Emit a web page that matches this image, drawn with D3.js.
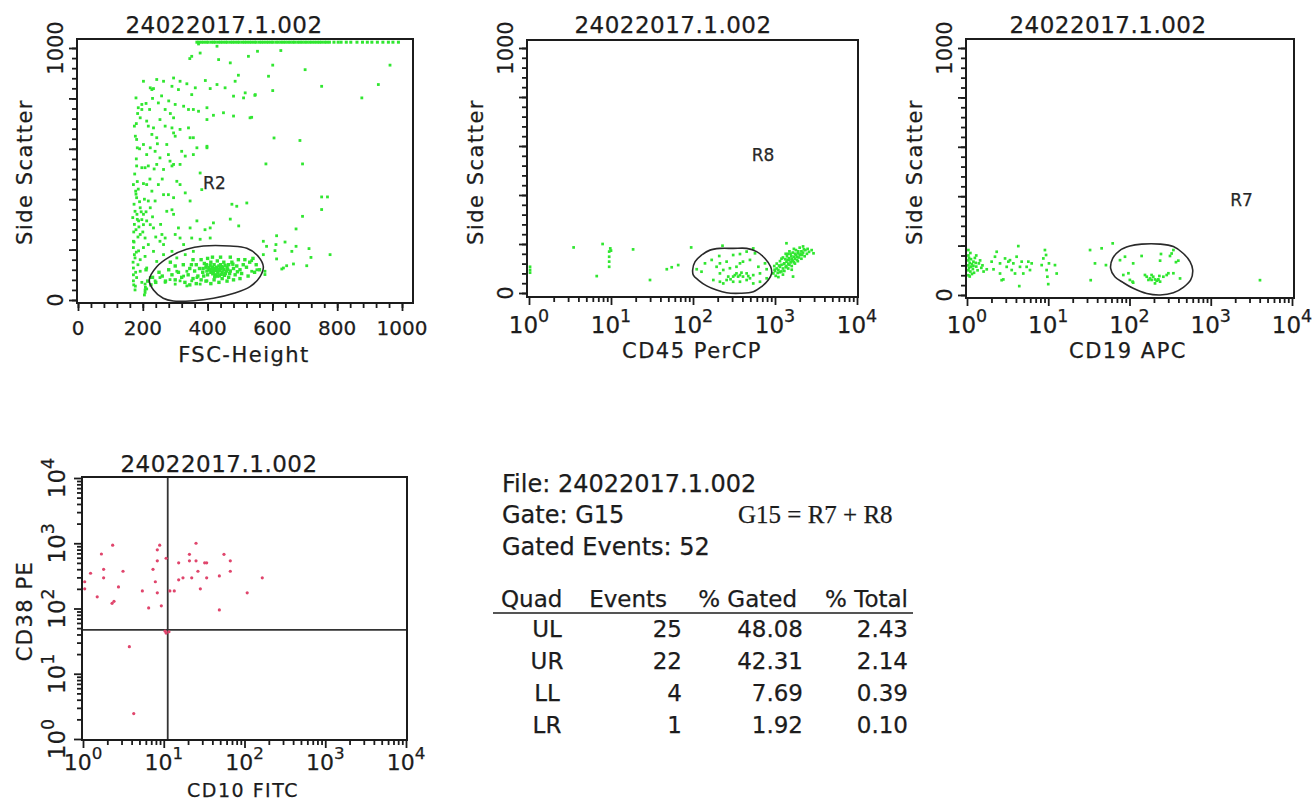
<!DOCTYPE html>
<html><head><meta charset="utf-8">
<script src="https://cdn.jsdelivr.net/npm/d3@7"></script>
<style>body{margin:0;background:#fff}svg{display:block}text{stroke:#1c1c1c;stroke-width:0.25px}</style>
</head><body>
<svg id="c" width="1312" height="801"></svg>
<script>
// ---------------- DATA ----------------
const fileName = "24022017.1.002";
const fscMajorTicks = [0, 200, 400, 600, 800, 1000];
const sscLabelTicks = [0, 1000];
const logMajorTicks = [1, 10, 100, 1000, 10000];

// FSC-Height vs Side Scatter events [fsc, ssc]
const fscSscEvents = [
[372,1016],[351,967],[345,958],[377,980],[429,1007],[434,954],[470,941],[526,967],[495,892],[554,987],
[202,868],[223,842],[228,835],[233,839],[243,875],[264,868],[295,881],[290,848],[315,868],[310,835],[336,858],[362,842],[351,815],[393,871],[408,839],[429,855],[454,842],[480,809],[485,868],[511,802],[516,822],[547,815],
[179,802],[197,776],[197,756],[186,763],[221,756],[248,782],[269,756],[295,723],[300,776],[326,769],[341,756],[356,756],[372,749],[398,763],[418,733],[449,743],[480,730],[531,723],
[174,690],[192,723],[212,710],[217,690],[233,683],[228,657],[243,644],[253,716],[269,690],[290,683],[295,663],[300,650],[315,677],[341,683],[346,644],[356,644],[398,604],[398,716],
[183,604],[181,637],[202,617],[212,577],[223,604],[238,590],[253,564],[274,617],[279,577],[284,551],[295,538],[315,538],[320,590],[331,571],[356,577],[367,604],[398,610],[181,532],[197,525],[207,525],[217,532],[243,538],[264,518],[290,532],
[171,458],[178,432],[181,406],[202,462],[212,458],[228,432],[248,458],[173,380],[176,352],[192,366],[202,340],[217,393],[223,366],[238,393],[264,418],[279,418],[295,406],[305,471],[315,458],[331,425],[274,352],[290,358],[295,340],[346,393],[377,504],[382,438],[475,380],[490,372],[521,385],
[169,327],[187,314],[197,319],[202,299],[212,314],[223,299],[179,279],[192,260],[207,246],[217,220],[171,233],[233,286],[259,260],[269,246],[253,233],[300,260],[310,286],[315,246],[346,286],[351,246],[367,314],[392,279],[408,286],[418,306],[377,241],[408,246],[470,321],[496,294],
[171,208],[187,195],[202,208],[176,167],[192,160],[207,173],[171,127],[192,114],[212,127],[233,193],[264,180],[243,153],[290,193],[305,167],[331,180],[356,193],[326,220],[264,220],
[171,76],[181,89],[197,70],[207,63],[212,44],[223,89],[238,76],[253,89],[269,70],[284,81],[300,63],[315,76],[326,95],[336,56],[351,76],[367,89],[377,63],[398,76],[336,114],[305,114],
[174,300],[182,340],[172,270],[185,250],[179,420],[183,470],[175,500],[180,560],[170,150],[178,110],[185,140],[172,60],[176,40],[180,190],[173,230],[188,290],[190,390],[186,440],[177,650],[180,700],[184,740],[190,600],[174,180],[171,100],[177,55],[183,320],[195,350],[200,270],[205,400],[210,350],[230,330],[240,250],[255,300],[222,480],[235,520],[260,480],[245,620],[210,780],[230,800],[258,810],[280,790],[285,740],
[207,40],[207,30],[208,50],[205,20],
[626,990],[601,932],[588,888],[701,914],[752,848],[963,932],[927,855],[876,802],[546,812],[601,831],[536,725],[605,643],[685,633],[580,540],[693,540],[752,409],[770,409],[752,359],[693,332],[673,282],[613,255],[572,233],[582,213],[611,220],[639,230],[673,213],[713,204],[608,196],[660,193],[778,180],[719,169],[613,163],[536,156],[572,180],[665,143],[644,136],[634,127],[629,123],[706,136],[577,114],[577,101],[552,120],[536,114]
];
// dense lymphocyte cluster inside R2
const fscSscCore = [
[420,120],[430,115],[440,125],[410,110],[425,100],[435,135],[445,110],[415,130],[405,120],[450,120],
[460,130],[455,105],[430,95],[440,140],[420,140],[400,100],[395,130],[470,115],[465,140],[480,125],
[490,135],[500,120],[510,140],[475,150],[450,150],[430,155],[410,150],[390,145],[385,110],[375,125],
[370,95],[360,115],[355,85],[380,80],[395,75],[420,80],[445,85],[465,90],[485,100],[505,105],
[520,130],[530,150],[515,160],[495,160],[470,170],[440,170],[415,170],[400,165],[350,140],[340,100],
[330,70],[345,60],[365,65],[410,65],[435,70],[460,75],[480,80],[500,85],[425,125],[432,108],
[418,112],[438,118],[428,130],[412,122],[447,128],[422,92],[452,98],[408,138],[442,102],[458,115],
[398,115],[388,95],[468,105],[478,142],[492,112],[365,140],[380,160],[320,90],[310,110],[300,80],
[290,100],[280,120],[270,75],[260,95],[250,110],[240,70],[230,90],[225,60],[215,75],[210,120],
[426,118],[434,122],[416,104],[444,132],[404,128],[454,138],[462,122],[436,96],[396,140],[386,125],
[540,165],[550,140],[560,120],[545,110],[525,95],[345,125],[355,160],[325,140],[300,135],[285,150]
];
// events saturated at top of SSC scale (FSC values)
const fscSaturatedX = [367,373,381,388,396,402,411,418,424,433,440,447,455,461,470,477,484,492,498,507,514,521,529,536,544,550,559,566,573,581,588,596,602,611,618,626,633,640,648,655,663,669,678,685,692,700,707,715,722,730,738,745,752,761,768,776,790,803,812,828,842,861,878,893,907,924,941,958,972,989];

// CD45 PerCP vs Side Scatter events [cd45, ssc]
const cd45Events = [
[1.03,107],[1.03,94],[1.03,83],[3.5,186],[7.9,200],[9.8,182],[10,173],[9.5,169],[9.5,148],[9.5,128],[9.5,107],[18.6,178],[6.7,69],[29.9,53],[47.9,97],[55,105],[66,114],[95,186],[229,193],
[111,97],[127,87],[169,135],[209,151],[213,121],[234,94],[257,128],[309,155],[374,159],[451,169],[543,182],[570,162],[374,121],[407,128],[495,135],[339,80],[213,80],[269,67],[309,67],[374,73],[451,80],[543,73],[656,80],[791,97],[177,53],[213,46],[257,53],[309,46],[374,46],[451,53],[543,39],[656,46],[791,60],[194,107],[140,121],[282,101],[627,107],[755,121],[339,107],[407,67],[234,39],[324,73],[355,67],[472,69],[495,60],[390,83],[287,56],
[955,80],[1000,90],[1050,100],[1100,94],[1150,107],[1150,85],[1200,115],[1250,100],[1300,121],[1380,110],[1380,128],[1450,120],[1500,135],[1550,125],[1600,140],[1660,130],[1700,148],[1750,140],[1800,155],[1850,148],[1900,162],[2000,155],[2100,170],[2200,165],[2350,175],[2450,160],[2600,168],[2950,162],[1380,203],[1660,67],[1250,75],[1100,65],[1300,90],[1450,100],[1600,110],[1750,120],[1900,130],[2100,140],[2300,150],[1550,160],[1800,175],[2000,185],[2200,190],[1200,140],[1400,150],[1650,165],[1050,120],[980,110],[1020,70],[1150,130],[1350,160],[1500,170],[1700,180],[1950,145],[2500,180],[2800,175],[1250,145],[1450,160],[1600,95],[1350,105],[1500,115],[1200,88],[1700,125],[1850,135],[2050,160],[2250,178],[1120,112],[1280,118],[1420,135],[1580,150],[1760,160],[1920,170],[2150,155],[1330,138],[1480,142],[1630,132],[1080,82],[990,95]
];

// CD19 APC vs Side Scatter events [cd19, ssc]
const cd19Events = [
[1.04,182],[1.04,160],[1.04,140],[1.04,120],[1.04,100],[1.04,80],[1.06,150],[1.06,110],[1.08,130],[1.1,95],[1.12,145],[1.12,115],[1.15,125],[1.18,105],[1.2,135],[1.22,90],[1.25,150],[1.3,115],[1.35,100],[1.4,128],[1.45,140],[1.5,110],[1.55,120],[1.6,95],[1.1,170],[1.15,85],[1.28,130],[1.08,75],[1.3,160],[1.2,118],
[1.75,104],[2.01,135],[2.21,155],[2.32,175],[2.55,128],[2.67,60],[2.94,148],[3.08,114],[3.23,135],[3.38,141],[3.55,101],[3.72,128],[3.9,87],[4.08,155],[4.28,198],[4.4,36],[4.49,114],[4.71,135],[4.93,87],[5.42,114],[5.69,135],[5.96,101],[6.25,128],[2.55,87],[2.12,104],[2.8,63],
[8.3,121],[8.7,148],[9.1,182],[9.4,162],[9.55,101],[9.75,74],[10,44],[10.2,128],[12.1,121],[12.7,87],
[32.7,182],[33.3,60],[37.6,128],[45.4,189],[51.3,121],[62.1,209],[76.4,141],[83.9,81],
[88,155],[97,88],[101,61],[111,128],[109,54],[141,158],[155,81],[163,74],[179,67],[187,61],[196,74],[206,63],[216,58],[226,63],[233,77],[238,139],[244,166],[261,74],[287,81],[301,88],[315,158],[330,168],[347,182],[373,133],[399,139],[419,67],[347,88],[226,61],[187,81],[171,61],[238,54],[206,47],[111,50],
[4036,60]
];

// CD10 FITC vs CD38 PE events (gated G15) [cd10, cd38]
const cd10Cd38Events = [
[2.33,933],[1.69,684],[1.24,347],[1.05,257],[1.05,200],[1.80,398],[1.80,295],[1.50,151],[2.29,120],[2.42,129],[2.75,214],[3.13,372],[5.43,186],[6.50,102],[7.36,398],[7.87,257],[8.32,174],[9.33,110],[8.32,537],[8.32,794],[8.91,933],[10.7,589],
[10.7,42],[3.75,26],[4.25,2.45],[10.4,45],
[11.6,44],
[15.3,501],[20.8,676],[20.8,537],[25.1,1000],[25.1,537],[26.5,372],[32.1,501],[34.0,501],[15.3,275],[17.3,295],[22.2,295],[28.4,200],[34.0,295],[11.9,186],[13.5,186],[48.8,316],[55.7,676],[66.7,537],[66.7,372],[48.8,95],[108,174],[166,295]
];
const quadCut = [11.2, 47];

// Gate outlines (data units)
const gateR2 = [[220,79],[243,132],[284,172],[335,201],[387,214],[469,214],[521,205],[557,172],[572,132],[562,93],[531,53],[479,26],[418,7],[356,-3],[294,-4],[263,7],[233,40]];
const gateR8 = [[99,94],[106,128],[127,155],[161,175],[213,182],[310,182],[451,182],[597,169],[755,141],[885,107],[910,80],[828,53],[687,26],[544,5],[374,-1],[257,1],[194,12],[147,29],[116,53],[101,73]];
const gateR7 = [[58.6,108],[62.1,148],[75,179],[101,198],[141,206],[238,206],[347,196],[460,168],[556,135],[600,101],[566,61],[460,31],[347,9],[238,0],[163,6],[111,27],[84,50],[66,74]];

// Statistics
const statsHeader = ["Quad", "Events", "% Gated", "% Total"];
const quadNames = ["UL", "UR", "LL", "LR"];
const quadEvents = [25, 22, 4, 1];
const quadGated = ["48.08", "42.31", "7.69", "1.92"];
const quadTotal = ["2.43", "2.14", "0.39", "0.10"];

// ---------------- DRAWING ----------------
const svg = d3.select("#c");
const INK = "#1c1c1c";
const GREEN = "#30e630";
const PINK = "#e0456c";
const SANS = "DejaVu Sans, Verdana, sans-serif";
const logMinor = [];
[1,10,100,1000].forEach(d => { for (let k = 2; k <= 9; k++) logMinor.push(d*k); });

function axisTicks(g, axisFn, scale, pos, majors, minors, isX) {
  const mk = (vals, size) => {
    const a = g.append("g").attr("transform", isX ? `translate(0,${pos})` : `translate(${pos},0)`)
      .call(axisFn(scale).tickValues(vals).tickSize(size).tickFormat(""));
    a.select(".domain").remove();
    a.selectAll("line").attr("stroke", INK).attr("stroke-width", 1.8);
  };
  mk(minors, 5);
  mk(majors, 8);
}

function supLabel(g, txt, exp, x, y, rotate, size) {
  const t = g.append("text")
    .attr("transform", `translate(${x},${y})` + (rotate ? " rotate(-90)" : ""))
    .attr("text-anchor", "middle").attr("font-family", SANS)
    .attr("font-size", size).attr("fill", INK);
  t.append("tspan").text(txt);
  t.append("tspan").attr("dy", -11).attr("font-size", size * 0.76).text(exp);
}

function panel(cfg) {
  const g = svg.append("g");
  const [x0, y0, x1, y1] = cfg.frame;
  const id = "clip" + cfg.name;
  svg.append("clipPath").attr("id", id).append("rect")
    .attr("x", x0).attr("y", y0).attr("width", x1 - x0).attr("height", y1 - y0);
  const pts = g.append("g").attr("clip-path", `url(#${id})`);
  cfg.draw(pts);
  g.append("rect").attr("x", x0).attr("y", y0).attr("width", x1 - x0).attr("height", y1 - y0)
    .attr("fill", "none").attr("stroke", INK).attr("stroke-width", 2);
  g.append("text").attr("x", cfg.titleX).attr("y", cfg.titleY).attr("text-anchor", "middle")
    .attr("font-family", SANS).attr("font-size", 23).attr("letter-spacing", 0.5).attr("fill", INK)
    .text(fileName);
  g.append("text").attr("x", cfg.xTitle[0]).attr("y", cfg.xTitle[1]).attr("text-anchor", "middle")
    .attr("font-family", SANS).attr("font-size", cfg.xTitleSize || 21).attr("letter-spacing", 1.5).attr("fill", INK)
    .text(cfg.xLabel);
  g.append("text").attr("transform", `translate(${cfg.yTitle[0]},${cfg.yTitle[1]}) rotate(-90)`)
    .attr("text-anchor", "middle")
    .attr("font-family", SANS).attr("font-size", 21).attr("letter-spacing", 1.5).attr("fill", INK)
    .text(cfg.yLabel);
  return g;
}

function greenDots(sel, data, x, y, s) {
  sel.selectAll(null).data(data).join("rect")
    .attr("x", d => x(d[0]) - s / 2).attr("y", d => y(d[1]) - s / 2)
    .attr("width", s).attr("height", s).attr("fill", GREEN);
}

function gatePath(sel, data, x, y) {
  sel.append("path")
    .attr("d", d3.line().x(d => x(d[0])).y(d => y(d[1])).curve(d3.curveCatmullRomClosed)(data))
    .attr("fill", "none").attr("stroke", "#2a2a2a").attr("stroke-width", 1.6);
}

function regionLabel(g, txt, px, py) {
  g.append("text").attr("x", px).attr("y", py).attr("text-anchor", "middle")
    .attr("font-family", SANS).attr("font-size", 17).attr("fill", "#2a2a2a").text(txt);
}

// ---- Panel 1: FSC vs SSC ----
{
  const x = d3.scaleLinear().domain([0, 1000]).range([78, 402]);
  const y = d3.scaleLinear().domain([0, 1000]).range([300, 48]);
  const g = panel({
    name: "p1", frame: [77, 39, 413, 303], titleX: 224, titleY: 33,
    xLabel: "FSC-Height", xTitle: [244, 362], yLabel: "Side Scatter", yTitle: [32, 172],
    draw: p => {
      greenDots(p, fscSscEvents, x, y, 2.8);
      greenDots(p, fscSscCore, x, y, 3.4);
      greenDots(p, fscSaturatedX.map(v => [v, 1023]), x, y, 3);
      gatePath(p, gateR2, x, y);
    }
  });
  axisTicks(g, d3.axisBottom, x, 303, fscMajorTicks, d3.range(0, 1001, 40), true);
  axisTicks(g, d3.axisLeft, y, 77, fscMajorTicks, d3.range(0, 1001, 40), false);
  fscMajorTicks.forEach(v => g.append("text").attr("x", x(v)).attr("y", 335).attr("text-anchor", "middle")
    .attr("font-family", SANS).attr("font-size", 20).attr("fill", INK).text(v));
  sscLabelTicks.forEach(v => g.append("text").attr("transform", `translate(63,${y(v)}) rotate(-90)`)
    .attr("text-anchor", "middle").attr("font-family", SANS).attr("font-size", 21).attr("fill", INK).text(v));
  regionLabel(g, "R2", x(421), y(440));
}

// ---- Panel 2: CD45 vs SSC ----
{
  const x = d3.scaleLog().domain([1, 10000]).range([529, 857]);
  const y = d3.scaleLinear().domain([0, 1000]).range([293, 48]);
  const g = panel({
    name: "p2", frame: [527, 40, 858, 297], titleX: 673, titleY: 33,
    xLabel: "CD45 PerCP", xTitle: [692, 358], yLabel: "Side Scatter", yTitle: [483, 172],
    draw: p => {
      greenDots(p, cd45Events, x, y, 2.7);
      gatePath(p, gateR8, x, y);
    }
  });
  axisTicks(g, d3.axisBottom, x, 297, logMajorTicks, logMinor, true);
  axisTicks(g, d3.axisLeft, y, 527, fscMajorTicks, d3.range(0, 1001, 40), false);
  logMajorTicks.forEach((v, i) => supLabel(g, "10", String(i), x(v), 333, false, 23));
  sscLabelTicks.forEach(v => g.append("text").attr("transform", `translate(513,${y(v)}) rotate(-90)`)
    .attr("text-anchor", "middle").attr("font-family", SANS).attr("font-size", 21).attr("fill", INK).text(v));
  regionLabel(g, "R8", x(300) + 31, y(540));
}

// ---- Panel 3: CD19 vs SSC ----
{
  const x = d3.scaleLog().domain([1, 10000]).range([967, 1292]);
  const y = d3.scaleLinear().domain([0, 1000]).range([295, 48]);
  const g = panel({
    name: "p3", frame: [966, 39, 1294, 298], titleX: 1108, titleY: 33,
    xLabel: "CD19 APC", xTitle: [1128, 358], yLabel: "Side Scatter", yTitle: [922, 172],
    draw: p => {
      greenDots(p, cd19Events, x, y, 2.7);
      gatePath(p, gateR7, x, y);
    }
  });
  axisTicks(g, d3.axisBottom, x, 298, logMajorTicks, logMinor, true);
  axisTicks(g, d3.axisLeft, y, 966, fscMajorTicks, d3.range(0, 1001, 40), false);
  logMajorTicks.forEach((v, i) => supLabel(g, "10", String(i), x(v), 333, false, 23));
  sscLabelTicks.forEach(v => g.append("text").attr("transform", `translate(952,${y(v)}) rotate(-90)`)
    .attr("text-anchor", "middle").attr("font-family", SANS).attr("font-size", 21).attr("fill", INK).text(v));
  regionLabel(g, "R7", x(2400), y(360));
}

// ---- Panel 4: CD10 vs CD38 ----
{
  const x = d3.scaleLog().domain([1, 10000]).range([83, 406]);
  const y = d3.scaleLog().domain([1, 10000]).range([739, 478]);
  const g = panel({
    name: "p4", frame: [82, 477, 407, 740], titleX: 219, titleY: 472,
    xLabel: "CD10 FITC", xTitle: [243, 797], xTitleSize: 19, yLabel: "CD38 PE", yTitle: [32, 611],
    draw: p => {
      p.append("line").attr("x1", x(quadCut[0])).attr("x2", x(quadCut[0])).attr("y1", 477).attr("y2", 740)
        .attr("stroke", "#333").attr("stroke-width", 1.8);
      p.append("line").attr("x1", 82).attr("x2", 407).attr("y1", y(quadCut[1])).attr("y2", y(quadCut[1]))
        .attr("stroke", "#333").attr("stroke-width", 1.8);
      p.selectAll(null).data(cd10Cd38Events).join("circle")
        .attr("cx", d => x(d[0])).attr("cy", d => y(d[1])).attr("r", 1.6).attr("fill", PINK);
    }
  });
  axisTicks(g, d3.axisBottom, x, 740, logMajorTicks, logMinor, true);
  axisTicks(g, d3.axisLeft, y, 82, logMajorTicks, logMinor, false);
  logMajorTicks.forEach((v, i) => supLabel(g, "10", String(i), x(v), 770, false, 22));
  logMajorTicks.forEach((v, i) => supLabel(g, "10", String(i), 65, y(v), true, 23));
}

// ---- Statistics block ----
{
  const g = svg.append("g").attr("font-family", SANS).attr("fill", INK);
  g.append("text").attr("x", 502).attr("y", 492).attr("font-size", 24).text("File: " + fileName);
  g.append("text").attr("x", 502).attr("y", 523).attr("font-size", 24).text("Gate: G15");
  g.append("text").attr("x", 738).attr("y", 523).attr("font-size", 25)
    .attr("font-family", "Liberation Serif, Times New Roman, serif").text("G15 = R7 + R8");
  g.append("text").attr("x", 502).attr("y", 555).attr("font-size", 24).text("Gated Events: " + quadEvents.reduce((a, b) => a + b, 0));
  const hx = [[501, "start"], [667, "end"], [797, "end"], [908, "end"]];
  statsHeader.forEach((h, i) => g.append("text").attr("x", hx[i][0]).attr("y", 607)
    .attr("text-anchor", hx[i][1]).attr("font-size", 23).text(h));
  g.append("line").attr("x1", 493).attr("x2", 913).attr("y1", 613).attr("y2", 613)
    .attr("stroke", INK).attr("stroke-width", 1.6);
  const rowY = d3.scalePoint().domain(quadNames).range([637, 733]);
  quadNames.forEach((q, i) => {
    const yy = rowY(q);
    g.append("text").attr("x", 547).attr("y", yy).attr("text-anchor", "middle").attr("font-size", 23).text(q);
    g.append("text").attr("x", 682).attr("y", yy).attr("text-anchor", "end").attr("font-size", 23).text(quadEvents[i]);
    g.append("text").attr("x", 803).attr("y", yy).attr("text-anchor", "end").attr("font-size", 23).text(quadGated[i]);
    g.append("text").attr("x", 908).attr("y", yy).attr("text-anchor", "end").attr("font-size", 23).text(quadTotal[i]);
  });
}
</script>
</body></html>
